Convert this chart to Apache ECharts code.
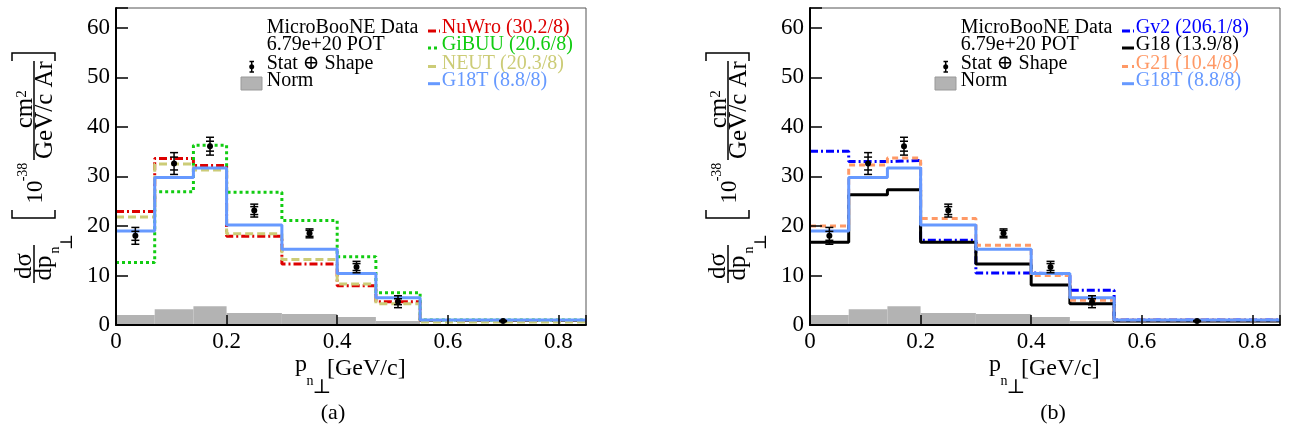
<!DOCTYPE html>
<html><head><meta charset="utf-8">
<script src="https://cdn.jsdelivr.net/npm/echarts@6/dist/echarts.min.js"></script>
<style>html,body{margin:0;padding:0;background:#fff}#c{width:1289px;height:430px}</style>
</head><body><div id="c"></div>
<script>
// ---------------- data ----------------
const binEdges   = [0, 0.07, 0.14, 0.2, 0.3, 0.4, 0.47, 0.55, 0.85];
const binCenters = [0.035, 0.105, 0.17, 0.25, 0.35, 0.435, 0.51, 0.7];
const dataValues   = [18.0, 32.6, 36.1, 23.1, 18.5, 11.7, 4.7, 0.8];
const dataErrTotal = [1.7, 2.2, 1.8, 1.3, 0.9, 1.15, 1.2, 0.1];
const dataErrStat  = [0.9, 1.3, 1.0, 0.8, 0.6, 0.7, 0.6, 0.05];
const normValues   = [2.0, 3.2, 3.8, 2.4, 2.2, 1.6, 0.8, 0.15];
const nuwroValues  = [22.9, 33.6, 32.2, 17.9, 12.3, 7.9, 4.7, 0.9];
const gibuuValues  = [12.6, 26.9, 36.3, 26.8, 21.1, 13.8, 6.5, 1.0];
const neutValues   = [21.8, 32.5, 31.3, 18.4, 13.2, 8.3, 4.3, 0.6];
const g18tValues   = [19.0, 29.8, 31.7, 20.2, 15.3, 10.4, 5.5, 1.0];
const gv2Values    = [35.1, 33.0, 33.2, 17.1, 10.5, 10.3, 7.0, 1.0];
const g18Values    = [16.7, 26.3, 27.3, 16.7, 12.3, 8.1, 4.3, 0.8];
const g21Values    = [20.0, 32.3, 33.7, 21.5, 16.1, 10.0, 5.0, 1.0];
const yTicks = [0, 10, 20, 30, 40, 50, 60];
const xTickLabels = ['0', '0.2', '0.4', '0.6', '0.8'];
const legendLeftText  = ['MicroBooNE Data', '6.79e+20 POT', 'Stat \u2295 Shape', 'Norm'];
const legendModelsA = ['NuWro (30.2/8)', 'GiBUU (20.6/8)', 'NEUT (20.3/8)', 'G18T (8.8/8)'];
const legendModelsB = ['Gv2 (206.1/8)', 'G18 (13.9/8)', 'G21 (10.4/8)', 'G18T (8.8/8)'];

// ---------------- styles ----------------
const FONT = '"Liberation Serif","DejaVu Serif","Times New Roman",serif';
const C = {nuwro:'#dd0000', gibuu:'#11cc11', neut:'#cccc77', g18t:'#6699ff', gv2:'#0000ff', g18:'#000000', g21:'#ff9966'};
const DASH = {dashdot:[8,3,2,3], dot:[3,3], dash:[8,4], dash2:[6,4], solid:'solid'};

function steps(vals){
  const pts = [];
  for (let i = 0; i < vals.length; i++) { pts.push([binEdges[i], vals[i]]); pts.push([binEdges[i+1], vals[i]]); }
  return pts;
}
function lineSeries(name, vals, color, dash, g, z){
  return {type:'line', name, xAxisIndex:g, yAxisIndex:g, data:steps(vals), showSymbol:false, symbol:'none',
    lineStyle:{color, width:3, type:dash}, z:z||3, animation:false, silent:true};
}
function normSeries(g){
  return {type:'custom', xAxisIndex:g, yAxisIndex:g, z:1, silent:true, animation:false,
    data: normValues.map((v,i)=>[binEdges[i], binEdges[i+1], v]),
    encode:{x:[0,1], y:2},
    renderItem(params, api){
      const a = api.coord([api.value(0), api.value(2)]);
      const b = api.coord([api.value(1), 0]);
      return {type:'rect', shape:{x:a[0], y:a[1], width:b[0]-a[0], height:b[1]-a[1]}, style:{fill:'#b3b3b3'}};
    }};
}
function dataSeries(g){
  return {type:'custom', xAxisIndex:g, yAxisIndex:g, z:10, silent:true, animation:false,
    data: binCenters.map((c,i)=>[c, dataValues[i], dataErrTotal[i], dataErrStat[i]]),
    encode:{x:0, y:1},
    renderItem(params, api){
      const x = api.value(0), y = api.value(1), eo = api.value(2), ei = api.value(3);
      const p = api.coord([x,y]), t = api.coord([x,y+eo]), b = api.coord([x,y-eo]);
      const ti = api.coord([x,y+ei]), bi = api.coord([x,y-ei]);
      const st = {stroke:'#000', lineWidth:1.5};
      const cap = (yy)=>({type:'line', shape:{x1:p[0]-4, y1:yy, x2:p[0]+4, y2:yy}, style:st});
      return {type:'group', children:[
        {type:'line', shape:{x1:p[0], y1:t[1], x2:p[0], y2:b[1]}, style:st},
        cap(t[1]), cap(b[1]), cap(ti[1]), cap(bi[1]),
        {type:'circle', shape:{cx:p[0], cy:p[1], r:3}, style:{fill:'#000'}}
      ]};
    }};
}

function xAxis(g){
  return {gridIndex:g, type:'value', min:0, max:0.85, interval:0.2, z:6,
    axisLine:{onZero:false, lineStyle:{color:'#000', width:2}},
    axisTick:{inside:true, length:10, lineStyle:{color:'#000', width:1.5}},
    axisLabel:{margin:5, color:'#000', fontFamily:FONT, fontSize:23,
      formatter:(v)=>{ const k = v/0.2; const r = Math.round(k); return Math.abs(k-r) < 1e-6 ? (xTickLabels[r] || '') : ''; }},
    splitLine:{show:false}};
}
function yAxis(g){
  return {gridIndex:g, type:'value', min:0, max:64, interval:10, z:6,
    axisLine:{show:true, lineStyle:{color:'#000', width:2}},
    axisTick:{show:true, inside:true, length:12, lineStyle:{color:'#000', width:1.5}},
    axisLabel:{margin:6, color:'#000', fontFamily:FONT, fontSize:23,
      formatter:(v)=> yTicks.indexOf(Math.round(v*1000)/1000) >= 0 ? String(v) : ''},
    splitLine:{show:false}};
}

// ---------------- graphic helpers ----------------
function rtext(t, x, y, size){
  return {type:'text', x, y, rotation:Math.PI/2, silent:true,
    style:{text:t, font: size + 'px ' + FONT, fill:'#000', align:'center', verticalAlign:'middle'}};
}
function htext(t, x, y, size, color, align){
  return {type:'text', x, y, silent:true,
    style:{text:t, font: size + 'px ' + FONT, fill:color||'#000', align:align||'center', verticalAlign:'middle'}};
}
function seg(x1,y1,x2,y2,color,w,dash){
  const s = {stroke:color||'#000', lineWidth:w||1.5};
  if (dash && dash !== 'solid') s.lineDash = dash;
  return {type:'line', silent:true, shape:{x1,y1,x2,y2}, style:s};
}
function poly(pts){ return {type:'polyline', silent:true, shape:{points:pts}, style:{stroke:'#000', lineWidth:1.5, fill:null}}; }

function panelGraphics(dx, models, colors, dashes, caption, capX){
  const els = [];
  // y title
  els.push(rtext('d\u03c3', 24+dx, 266, 25));
  els.push(seg(34+dx, 245, 34+dx, 283));
  els.push(rtext('dp', 44+dx, 268, 25));
  els.push(rtext('n', 55.5+dx, 250, 14));
  els.push(rtext('\u22a5', 67.5+dx, 242, 17));
  els.push(poly([[12+dx,210],[12+dx,218],[55+dx,218],[55+dx,210]]));
  els.push(rtext('10', 36+dx, 192, 23));
  els.push(rtext('-38', 23.5+dx, 172, 14));
  els.push(rtext('cm', 25+dx, 113, 25));
  els.push(rtext('2', 22.5+dx, 94, 15));
  els.push(seg(34+dx, 61, 34+dx, 160));
  els.push(rtext('GeV/c Ar', 45+dx, 110, 25));
  els.push(poly([[12+dx,61],[12+dx,53],[55+dx,53],[55+dx,61]]));
  // x title
  els.push(htext('p', 301+dx, 365, 24));
  els.push(htext('n', 310+dx, 381, 14));
  els.push(htext('\u22a5', 322+dx, 388, 20));
  els.push(htext('[GeV/c]', 327+dx, 369, 24, '#000', 'left'));
  // caption
  els.push(htext(caption, capX, 413, 22));
  // legend column 1
  const rows = [28, 45, 63.5, 80.7];
  legendLeftText.forEach((t,i)=> els.push(htext(t, 266.7+dx, rows[i], 20, '#000', 'left')));
  els.push(seg(251.7+dx, 61.5, 251.7+dx, 72));
  els.push(seg(249.5+dx, 61.5, 254+dx, 61.5));
  els.push(seg(249.5+dx, 72, 254+dx, 72));
  els.push({type:'circle', silent:true, shape:{cx:251.7+dx, cy:66.7, r:2.5}, style:{fill:'#000'}});
  els.push({type:'rect', silent:true, shape:{x:241+dx, y:77, width:21, height:13}, style:{fill:'#b3b3b3', stroke:'#999', lineWidth:1}});
  // legend column 2
  models.forEach((t,i)=>{
    els.push(seg(428+dx, rows[i]+3, 440+dx, rows[i]+3, colors[i], 3, dashes[i]));
    els.push(htext(t, 441.7+dx, rows[i], 20, colors[i], 'left'));
  });
  return els;
}

const chart = echarts.init(document.getElementById('c'), null, {renderer:'canvas'});
const option = {
  animation:false,
  backgroundColor:'#fff',
  grid:[
    {left:116, top:8, width:470, height:317, show:true, borderColor:'#555', borderWidth:1, backgroundColor:'transparent'},
    {left:810, top:8, width:470, height:317, show:true, borderColor:'#555', borderWidth:1, backgroundColor:'transparent'}
  ],
  xAxis:[xAxis(0), xAxis(1)],
  yAxis:[yAxis(0), yAxis(1)],
  series:[
    normSeries(0),
    lineSeries('NuWro', nuwroValues, C.nuwro, DASH.dashdot, 0, 3),
    lineSeries('GiBUU', gibuuValues, C.gibuu, DASH.dot, 0, 3),
    lineSeries('NEUT', neutValues, C.neut, DASH.dash, 0, 3),
    lineSeries('G18T', g18tValues, C.g18t, DASH.solid, 0, 4),
    dataSeries(0),
    normSeries(1),
    lineSeries('Gv2', gv2Values, C.gv2, DASH.dashdot, 1, 3),
    lineSeries('G18', g18Values, C.g18, DASH.solid, 1, 3),
    lineSeries('G21', g21Values, C.g21, DASH.dash2, 1, 3),
    lineSeries('G18T', g18tValues, C.g18t, DASH.solid, 1, 4),
    dataSeries(1)
  ],
  graphic:[].concat(
    panelGraphics(0, legendModelsA, [C.nuwro, C.gibuu, C.neut, C.g18t], [DASH.dashdot, DASH.dot, DASH.dash, 'solid'], '(a)', 333),
    panelGraphics(694, legendModelsB, [C.gv2, C.g18, C.g21, C.g18t], [DASH.dashdot, 'solid', DASH.dash2, 'solid'], '(b)', 1053)
  )
};
chart.setOption(option);
</script>
</body></html>
